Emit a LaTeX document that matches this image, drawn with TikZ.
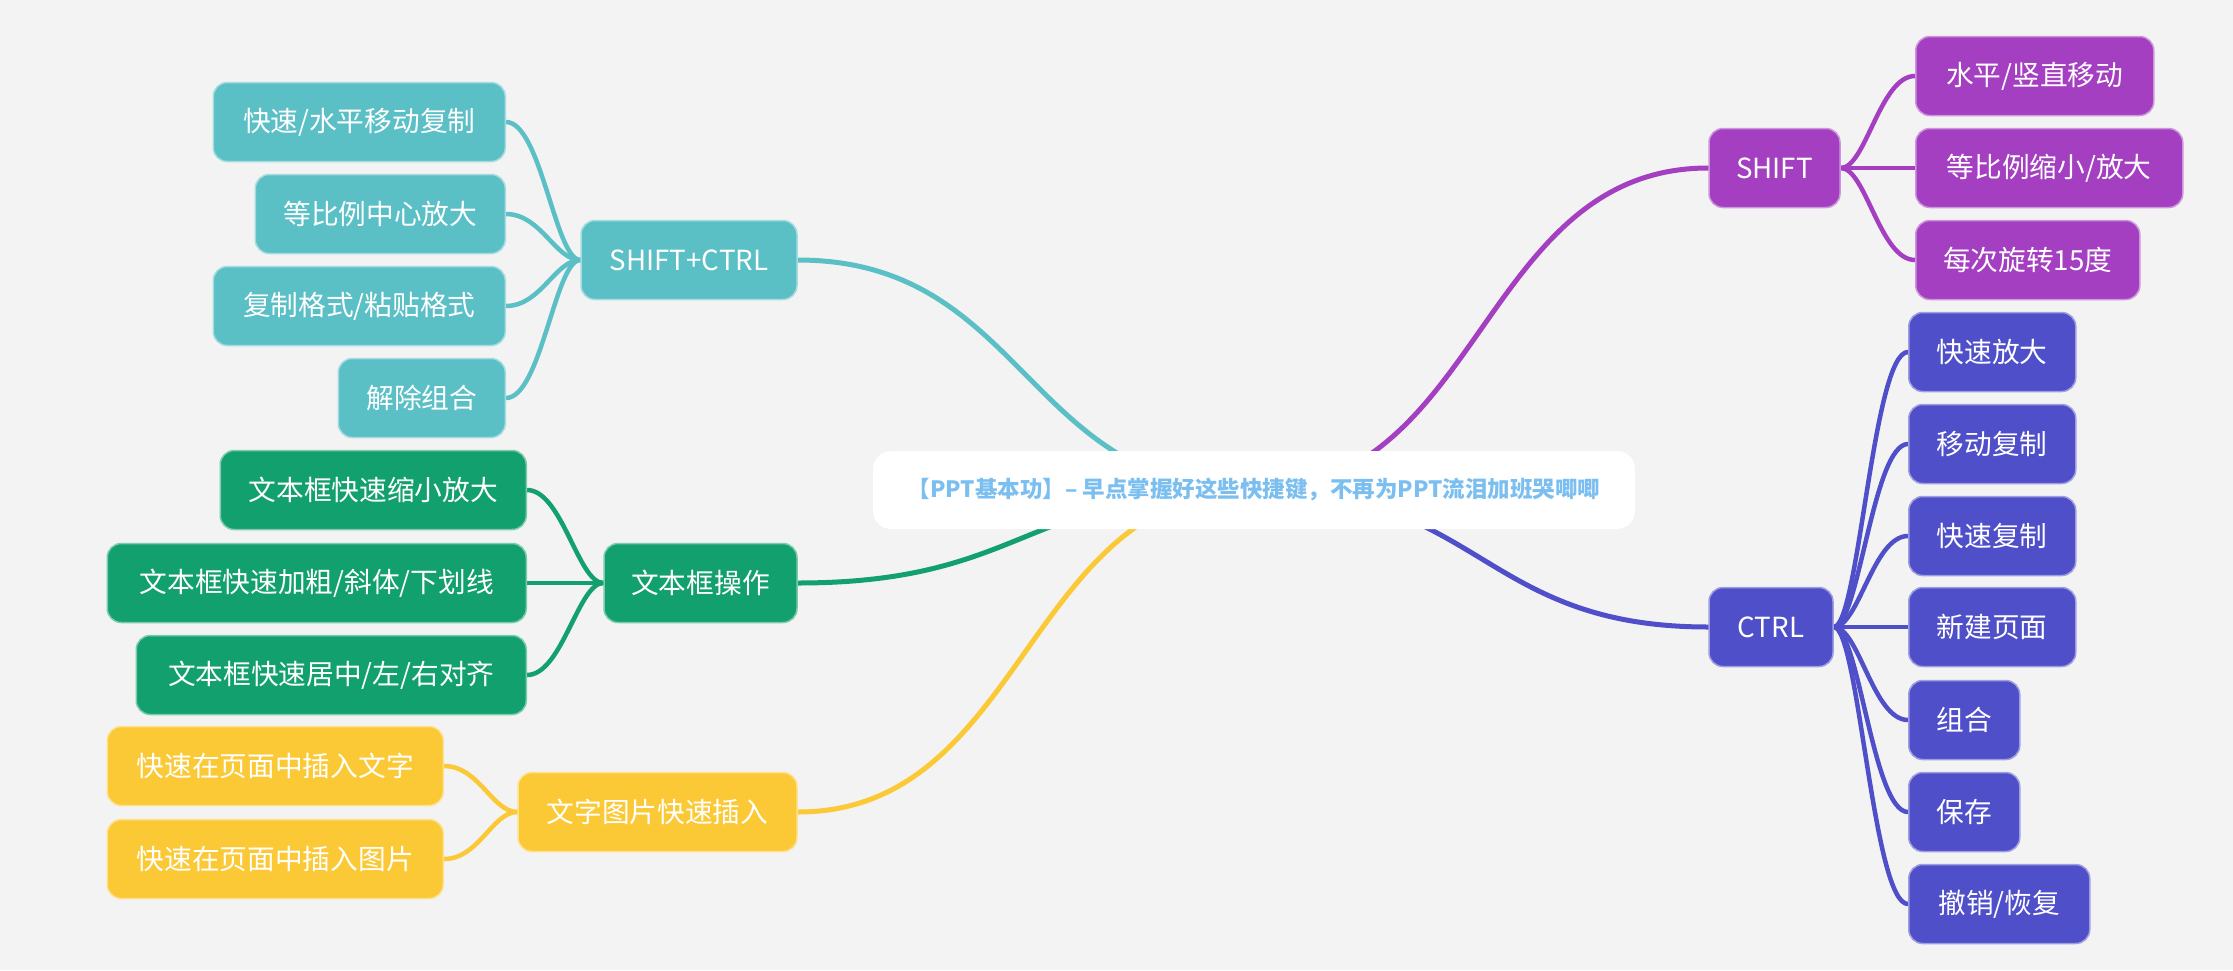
\documentclass[tikz,border=0pt]{standalone}
\usepackage{fontspec}
\setmainfont{Noto Sans CJK SC}
\usetikzlibrary{backgrounds}
\definecolor{bgc}{HTML}{F3F3F3}
\definecolor{cteal}{HTML}{5BBFC6}
\definecolor{cgreen}{HTML}{12A06E}
\definecolor{cyellow}{HTML}{FBC935}
\definecolor{cpurple}{HTML}{A33FC0}
\definecolor{cblue}{HTML}{4E4FC9}
\definecolor{ctitle}{HTML}{7BBEF0}
\begin{document}
\begin{tikzpicture}[x=1pt,y=-1pt,
  box/.style={rounded corners=14pt, minimum height=79pt, inner sep=0pt,
    text=white, font=\fontsize{27.7}{30}\selectfont, line width=1.5pt},
  tealbox/.style={box, fill=cteal, draw=cteal!55!white},
  greenbox/.style={box, fill=cgreen, draw=cgreen!55!white},
  yellowbox/.style={box, fill=cyellow, draw=cyellow!55!white},
  purplebox/.style={box, fill=cpurple, draw=cpurple!55!white},
  bluebox/.style={box, fill=cblue, draw=cblue!55!white},
  rootbox/.style={rounded corners=18pt, fill=white, minimum width=762pt,
    minimum height=78pt, inner sep=0pt, text=ctitle,
    font=\fontsize{22.5}{26}\selectfont\bfseries},
  mainline/.style={line width=5pt, line cap=round},
  subline/.style={line width=4.5pt, line cap=round}
]
\useasboundingbox (0,0) rectangle (2233,970);

% root
\node[rootbox] (root) at (1254,490) {【PPT基本功】– 早点掌握好这些快捷键，不再为PPT流泪加班哭唧唧};

% SHIFT+CTRL group (teal)
\node[tealbox, minimum width=216pt] (sc) at (689,260) {SHIFT+CTRL};
\node[tealbox, minimum width=292pt, anchor=east] (sc1) at (506,122) {快速/水平移动复制};
\node[tealbox, minimum width=250pt, anchor=east] (sc2) at (506,214) {等比例中心放大};
\node[tealbox, minimum width=292pt, anchor=east] (sc3) at (506,306) {复制格式/粘贴格式};
\node[tealbox, minimum width=167pt, anchor=east] (sc4) at (506,398) {解除组合};

% text box group (green)
\node[greenbox, minimum width=193pt] (tb) at (700.5,583) {文本框操作};
\node[greenbox, minimum width=306pt, anchor=east] (tb1) at (527,490) {文本框快速缩小放大};
\node[greenbox, minimum width=419pt, anchor=east] (tb2) at (527,583) {文本框快速加粗/斜体/下划线};
\node[greenbox, minimum width=390pt, anchor=east] (tb3) at (527,675) {文本框快速居中/左/右对齐};

% insert group (yellow)
\node[yellowbox, minimum width=279pt] (ins) at (657.5,812) {文字图片快速插入};
\node[yellowbox, minimum width=336pt, anchor=east] (ins1) at (444,766) {快速在页面中插入文字};
\node[yellowbox, minimum width=336pt, anchor=east] (ins2) at (444,859) {快速在页面中插入图片};

% SHIFT group (purple)
\node[purplebox, minimum width=131pt] (sh) at (1774.5,168) {SHIFT};
\node[purplebox, minimum width=238pt, anchor=west] (sh1) at (1915,76) {水平/竖直移动};
\node[purplebox, minimum width=267pt, anchor=west] (sh2) at (1915,168) {等比例缩小/放大};
\node[purplebox, minimum width=224pt, anchor=west] (sh3) at (1915,260) {每次旋转15度};

% CTRL group (blue)
\node[bluebox, minimum width=124pt] (ct) at (1771,627) {CTRL};
\node[bluebox, minimum width=167pt, anchor=west] (ct1) at (1908,352) {快速放大};
\node[bluebox, minimum width=167pt, anchor=west] (ct2) at (1908,444) {移动复制};
\node[bluebox, minimum width=167pt, anchor=west] (ct3) at (1908,536) {快速复制};
\node[bluebox, minimum width=167pt, anchor=west] (ct4) at (1908,627) {新建页面};
\node[bluebox, minimum width=111pt, anchor=west] (ct5) at (1908,720) {组合};
\node[bluebox, minimum width=111pt, anchor=west] (ct6) at (1908,812) {保存};
\node[bluebox, minimum width=181pt, anchor=west] (ct7) at (1908,904) {撤销/恢复};

\begin{scope}[on background layer]
\fill[bgc] (0,0) rectangle (2233,970);
% main branches
\draw[mainline, cteal]   (root.center) .. controls +(-228,0) and +(228,0) .. (sc.east);
\draw[mainline, cgreen]  (root.center) .. controls +(-228,0) and +(228,0) .. (tb.east);
\draw[mainline, cyellow] (root.center) .. controls +(-228,0) and +(228,0) .. (ins.east);
\draw[mainline, cpurple] (root.center) .. controls +(228,0) and +(-228,0) .. (sh.west);
\draw[mainline, cblue]   (root.center) .. controls +(228,0) and +(-228,0) .. (ct.west);
% teal sub-branches
\foreach \c in {sc1,sc2,sc3,sc4}
  \draw[subline, cteal] (sc.west) .. controls +(-25,0) and +(35,0) .. (\c.east);
% green sub-branches
\foreach \c in {tb1,tb2,tb3}
  \draw[subline, cgreen] (tb.west) .. controls +(-25,0) and +(35,0) .. (\c.east);
% yellow sub-branches
\foreach \c in {ins1,ins2}
  \draw[subline, cyellow] (ins.west) .. controls +(-25,0) and +(35,0) .. (\c.east);
% purple sub-branches
\foreach \c in {sh1,sh2,sh3}
  \draw[subline, cpurple] (sh.east) .. controls +(25,0) and +(-35,0) .. (\c.west);
% blue sub-branches
\foreach \c in {ct1,ct2,ct3,ct4,ct5,ct6,ct7}
  \draw[subline, cblue] (ct.east) .. controls +(25,0) and +(-35,0) .. (\c.west);
\end{scope}
\end{tikzpicture}
\end{document}
